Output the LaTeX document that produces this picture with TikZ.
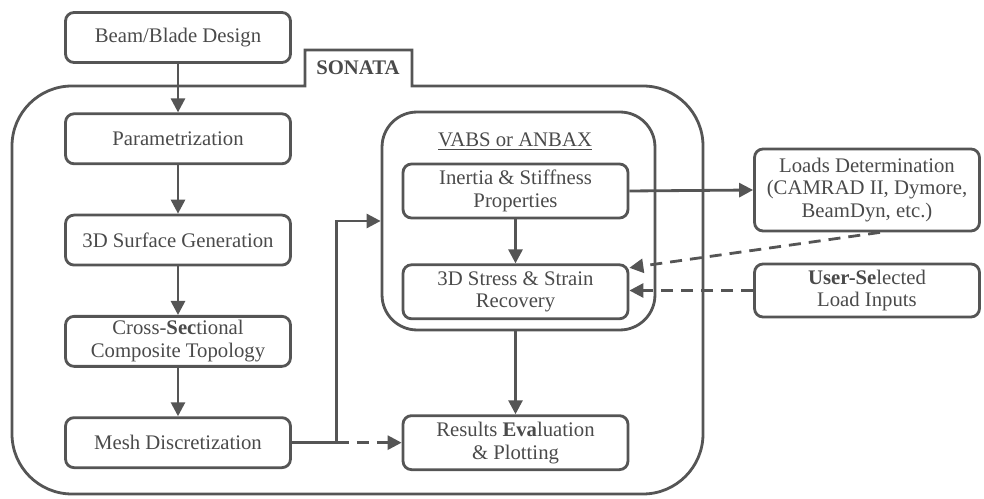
\documentclass[tikz,border=0pt]{standalone}
\usepackage{fontspec}
\setmainfont{Liberation Serif}
\usepackage{tikz}
\usetikzlibrary{positioning, arrows.meta}
\usepackage{xcolor}
\definecolor{linegray}{HTML}{555555}
\definecolor{textgray}{HTML}{4A4A4A}

\begin{document}
\begin{tikzpicture}[
    x=0.02cm, y=-0.02cm,
    node distance=0.97cm,
    every node/.style={text=textgray, font=\fontsize{11.8}{13}\selectfont},
    box/.style={rectangle, draw=linegray, line width=1.6pt, rounded corners=0.17cm, minimum width=4.5cm, minimum height=1.0cm, align=center, inner sep=2pt},
    frame/.style={draw=linegray, line width=1.6pt},
    arrow/.style={-{Triangle[length=0.28cm, width=0.28cm]}, line width=1.6pt, draw=linegray},
    dasharrow/.style={arrow, dash pattern=on 0.24cm off 0.16cm}
]
\useasboundingbox (0,0) rectangle (984,499);

% SONATA frame with its tab
\draw[frame] (200,86) [rounded corners=1.2cm] -- (12,86) -- (12,494) -- (703,494) -- (703,86)
    [sharp corners] -- (412,86) -- (412,50) -- (305,50) -- (305,86) -- (200,86);
\node (sonata) at (358,68) {\textbf{SONATA}};

% Left column
\node (design) [box] at (178,37.5) {Beam/Blade Design};
\node (param) [box, below=of design] {Parametrization};
\node (surface) [box, below=of param] {3D Surface Generation};
\node (topo) [box, below=of surface] {Cross-\textbf{Sec}tional\\Composite Topology};
\node (mesh) [box, below=of topo] {Mesh Discretization};

% VABS or ANBAX block
\node (vabs) [box, rounded corners=0.7cm, minimum width=5.46cm, minimum height=4.36cm] at (518.5,221) {};
\node (solver) at (515,142) {\underline{VABS or ANBAX}};
\node (inertia) [box, minimum height=1.08cm] at (515.5,191) {Inertia \& Stiffness\\Properties};
\node (stress) [box, minimum height=1.08cm, below=0.88cm of inertia] {3D Stress \& Strain\\Recovery};
\node (results) [box, minimum height=1.08cm] at (mesh.center -| inertia.center) {Results \textbf{Eva}luation\\\& Plotting};

% Outside inputs
\node (loads) [box, minimum height=1.64cm] at (867,190) {Loads Determination\\(CAMRAD II, Dymore,\\BeamDyn, etc.)};
\node (userin) [box, minimum height=1.06cm] at (867,290.5) {\textbf{User-Se}lected\\Load Inputs};

% Connectors
\draw [arrow] (design) -- (param);
\draw [arrow] (param) -- (surface);
\draw [arrow] (surface) -- (topo);
\draw [arrow] (topo) -- (mesh);
\path (mesh.east) ++(0.9cm,0) coordinate (split);
\draw [frame] (mesh.east) -- (split);
\draw [arrow] (split) |- (vabs.west);
\draw [dasharrow] (split) -- (results.west);
\draw [arrow] (inertia) -- (stress);
\draw [arrow] (inertia.east) -- (loads.west);
\draw [dasharrow] ([xshift=0.26cm]loads.south) -- ([yshift=0.48cm]stress.east);
\draw [dasharrow] (userin.west) -- (userin.west -| stress.east);
\draw [arrow] (results.north |- vabs.south) -- (results.north);

\end{tikzpicture}
\end{document}
